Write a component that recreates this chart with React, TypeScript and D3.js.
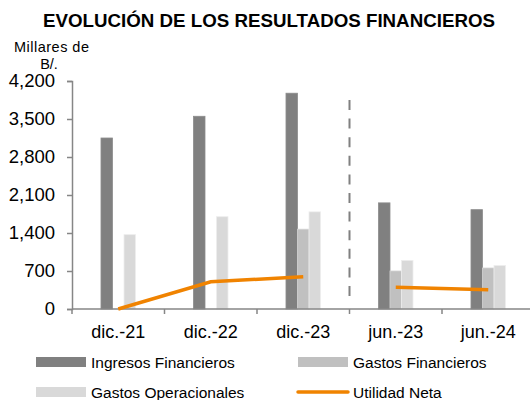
import * as d3 from 'd3';
import React, { useEffect, useRef } from 'react';

// datos (millares de B/.)
const periodos = ['dic.-21', 'dic.-22', 'dic.-23', 'jun.-23', 'jun.-24'];
const ingresosFinancieros = [3150, 3550, 3975, 1955, 1830];
const gastosFinancieros = [0, 0, 1470, 700, 755];
const gastosOperacionales = [1370, 1700, 1790, 895, 800];
const utilidadNeta = [0, 500, 595, 400, 355];
// la linea se corta entre el cierre anual y el semestral
const tramos = [['dic.-21', 'dic.-22', 'dic.-23'], ['jun.-23', 'jun.-24']];
const yTicks = [0, 700, 1400, 2100, 2800, 3500, 4200];

const series = ['Ingresos Financieros', 'Gastos Financieros', 'Gastos Operacionales'];
const colores = ['#808080', '#c0c0c0', '#d9d9d9'];
const naranja = '#f08300';

const App = () => {
  const ref = useRef<SVGSVGElement>(null);

  useEffect(() => {
    const width = 530, height = 400;
    const margin = { top: 81, right: -4.5, bottom: 91, left: 72 };
    const h = height - margin.top - margin.bottom;

    const svg = d3.select(ref.current);
    svg.selectAll('*').remove();
    svg.style('font-family', '"Liberation Sans", Arial, sans-serif');

    svg.append('text')
      .attr('x', 43).attr('y', 26.5)
      .attr('font-weight', 'bold')
      .attr('font-size', 17.5)
      .attr('textLength', 452)
      .attr('lengthAdjust', 'spacingAndGlyphs')
      .text('EVOLUCIÓN DE LOS RESULTADOS FINANCIEROS');

    const unidad = svg.append('text').attr('font-size', 14.5).attr('text-anchor', 'middle');
    unidad.append('tspan').attr('x', 51.5).attr('y', 52).attr('textLength', 75).text('Millares de');
    unidad.append('tspan').attr('x', 49).attr('y', 69).text('B/.');

    const x = d3.scaleBand()
      .domain(periodos)
      .range([margin.left, width - margin.right]);

    const x1 = d3.scaleBand()
      .domain(series)
      .range([0, x.bandwidth()])
      .paddingOuter(2.52);

    const y = d3.scaleLinear()
      .domain([0, 4200])
      .range([margin.top + h, margin.top]);

    // eje Y
    svg.append('g')
      .attr('transform', `translate(${margin.left},0)`)
      .call(d3.axisLeft(y).tickValues(yTicks).tickFormat(d3.format(',')).tickSize(5).tickPadding(12))
      .call(g => g.select('.domain').attr('stroke', '#868686').attr('stroke-width', 1.5))
      .call(g => g.selectAll('.tick line').attr('stroke', '#868686').attr('stroke-width', 1.5))
      .call(g => g.selectAll('.tick text')
        .attr('font-size', 18.5).attr('fill', '#000')
        .attr('font-family', '"Liberation Sans", Arial, sans-serif'));

    // barras
    const valores = [ingresosFinancieros, gastosFinancieros, gastosOperacionales];
    series.forEach((s, i) => {
      svg.append('g')
        .selectAll('rect')
        .data(periodos)
        .enter()
        .append('rect')
        .attr('x', d => (x(d) as number) + (x1(s) as number))
        .attr('y', (d, j) => y(valores[i][j]))
        .attr('width', x1.bandwidth())
        .attr('height', (d, j) => y(0) - y(valores[i][j]))
        .attr('fill', colores[i])
        .attr('stroke', d3.color(colores[i])!.brighter(0.25).toString())
        .attr('stroke-width', 0.8);
    });

    // eje X con marcas entre categorias
    const eje = svg.append('g');
    eje.append('line')
      .attr('x1', margin.left).attr('x2', width)
      .attr('y1', y(0)).attr('y2', y(0))
      .attr('stroke', '#868686').attr('stroke-width', 1.5);
    eje.selectAll('.marca')
      .data(periodos)
      .enter()
      .append('line')
      .attr('x1', d => x(d) as number).attr('x2', d => x(d) as number)
      .attr('y1', y(0)).attr('y2', y(0) + 5)
      .attr('stroke', '#868686').attr('stroke-width', 1.5);
    eje.selectAll('text')
      .data(periodos)
      .enter()
      .append('text')
      .attr('x', d => (x(d) as number) + x.bandwidth() / 2)
      .attr('y', y(0) + 29)
      .attr('text-anchor', 'middle')
      .attr('font-size', 18)
      .text(d => d);

    // separador punteado
    const xs = x('jun.-23') as number;
    svg.append('line')
      .attr('x1', xs).attr('x2', xs)
      .attr('y1', y(3850)).attr('y2', y(200))
      .attr('stroke', '#808080')
      .attr('stroke-width', 2)
      .attr('stroke-dasharray', '10,8.6');

    // utilidad neta
    const linea = d3.line<string>()
      .x(d => (x(d) as number) + x.bandwidth() / 2)
      .y(d => y(utilidadNeta[periodos.indexOf(d)]));
    svg.append('g')
      .selectAll('path')
      .data(tramos)
      .enter()
      .append('path')
      .attr('d', d => linea(d))
      .attr('fill', 'none')
      .attr('stroke', naranja)
      .attr('stroke-width', 3.5);

    // leyenda
    const leyenda = [
      { nombre: series[0], color: colores[0], tipo: 'bar', lx: 36, ly: 362 },
      { nombre: series[1], color: colores[1], tipo: 'bar', lx: 298, ly: 362 },
      { nombre: series[2], color: colores[2], tipo: 'bar', lx: 36, ly: 392 },
      { nombre: 'Utilidad Neta', color: naranja, tipo: 'line', lx: 298, ly: 392 },
    ];
    const item = svg.append('g').selectAll('g')
      .data(leyenda)
      .enter()
      .append('g')
      .attr('transform', d => `translate(${d.lx},${d.ly})`);
    item.filter(d => d.tipo === 'bar')
      .append('rect')
      .attr('x', 0).attr('y', -5)
      .attr('width', 50).attr('height', 10)
      .attr('fill', d => d.color);
    item.filter(d => d.tipo === 'line')
      .append('line')
      .attr('x1', 0).attr('x2', 50)
      .attr('stroke', d => d.color)
      .attr('stroke-width', 3.5)
      .attr('stroke-linecap', 'round');
    item.append('text')
      .attr('x', 55).attr('y', 5.5)
      .attr('font-size', 15.5)
      .text(d => d.nombre);
  }, []);

  return (
    <svg ref={ref} width={530} height={400}
      style={{ position: 'absolute', left: 0, top: 0, background: '#fff' }} />
  );
};

export default App;
